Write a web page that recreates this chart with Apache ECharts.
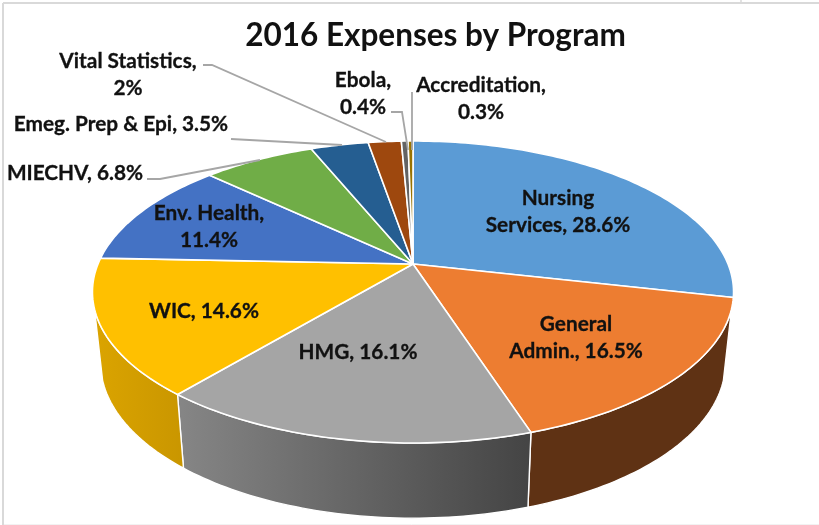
<!DOCTYPE html>
<html>
<head>
<meta charset="utf-8">
<style>html,body{margin:0;padding:0;background:#fff}#chart{width:819px;height:525px}</style>
<script src="https://cdn.jsdelivr.net/npm/echarts@6/dist/echarts.min.js"></script>
</head>
<body>
<div id="chart"></div>
<script>
const titleText = '2016 Expenses by Program';
const categories = ['Nursing Services','General Admin.','HMG','WIC','Env. Health','MIECHV','Emeg. Prep & Epi','Vital Statistics','Ebola','Accreditation'];
const values = [28.6,16.5,16.1,14.6,11.4,6.8,3.5,2,0.4,0.3];
const labelLines = [
  ['Nursing','Services, 28.6%'],
  ['General','Admin., 16.5%'],
  ['HMG, 16.1%'],
  ['WIC, 14.6%'],
  ['Env. Health,','11.4%'],
  ['MIECHV, 6.8%'],
  ['Emeg. Prep & Epi, 3.5%'],
  ['Vital Statistics,','2%'],
  ['Ebola,','0.4%'],
  ['Accreditation,','0.3%']
];
const topColors = ['#5b9bd5','#ed7d31','#a5a5a5','#ffc000','#4472c4','#70ad47','#255e91','#9e480e','#636363','#997300'];
const wallColors = [['#3d6a94','#3d6a94'],['#5f3214','#5f3214'],['#868686','#444444'],['#dba400','#c99600'],
  ['#2f4f88','#2f4f88'],['#4e7a31','#4e7a31'],['#1a4165','#1a4165'],['#6e320a','#6e320a'],['#444444','#444444'],['#6a5000','#6a5000']];

// perspective of the pie disc
const TOP = {x:413, y:264, a:315, b:145.8};
const BOT = {x:413, y:334, a:307, b:150};
const P = 0.1854;
const WALL_FROM = 107*Math.PI/180, WALL_TO = 253*Math.PI/180;
function project(f, ang){
  const u = Math.sin(ang), v = Math.cos(ang), w = 1 + P*v;
  return [f.x + f.a*u/w, f.y - f.b*v/w];
}
const total = values.reduce((s,x)=>s+x,0);
function startOf(i){ let s=0; for(let k=0;k<i;k++) s+=values[k]; return s; }
function arc(f,a0,a1){
  const n = Math.max(2,Math.ceil((a1-a0)/0.02)), pts=[];
  for(let i=0;i<=n;i++) pts.push(project(f,a0+(a1-a0)*i/n));
  return pts;
}
function sliceAngles(params, api){
  const a0 = startOf(params.dataIndex)/total*2*Math.PI;
  return [a0, a0 + api.value(0)/total*2*Math.PI];
}
function renderTop(params, api){
  const [a0,a1] = sliceAngles(params, api);
  return {type:'polygon', shape:{points:[[TOP.x,TOP.y]].concat(arc(TOP,a0,a1))},
    style:{fill:topColors[params.dataIndex], stroke:'#ffffff', lineWidth:1.6, lineJoin:'round'}};
}
function renderWall(params, api){
  let [a0,a1] = sliceAngles(params, api);
  a0 = Math.max(a0, WALL_FROM); a1 = Math.min(a1, WALL_TO);
  if(a1 <= a0) return null;
  const c = wallColors[params.dataIndex];
  const pts = arc(TOP,a0,a1).concat(arc(BOT,a0,a1).reverse());
  return {type:'polygon', shape:{points:pts},
    style:{fill:new echarts.graphic.LinearGradient(0,0,1,0,[{offset:0,color:c[0]},{offset:1,color:c[1]}]),
      stroke:'#ffffff', lineWidth:1.4, lineJoin:'round'}};
}

// label placement: [centre x, first-line centre y]
const labelPlace = [[558,198],[576,324],[358,352],[204,311],[209,213],[75,173],[121,124],[128,61],[363,80],[481,85]];
const LINE_H = 27.5;
// leader line paths of the outside labels
const leaders = [
  [[147,179],[160,179],[260,160]],
  [[231,139],[342,145]],
  [[203,65],[212,65],[386,142]],
  [[391,112],[402,112],[408,150]],
  [[412,92],[412,150]]
];
const graphics = [];
graphics.push({type:'line',shape:{x1:3,y1:3,x2:819,y2:3},style:{stroke:'#d9d9d9',lineWidth:2},z:1});
graphics.push({type:'line',shape:{x1:3,y1:3,x2:3,y2:525},style:{stroke:'#d9d9d9',lineWidth:2},z:1});
graphics.push({type:'line',shape:{x1:741,y1:0,x2:741,y2:3},style:{stroke:'#d9d9d9',lineWidth:1.5},z:1});
graphics.push({type:'line',shape:{x1:4,y1:524.5,x2:819,y2:524.5},style:{stroke:'#f2f2f2',lineWidth:1},z:1});
leaders.forEach(p=>graphics.push({type:'polyline',shape:{points:p},style:{stroke:'#a6a6a6',fill:null,lineWidth:1.8},z:20}));
labelLines.forEach((lines,i)=>{
  lines.forEach((t,j)=>graphics.push({type:'text',x:labelPlace[i][0],y:labelPlace[i][1]+j*LINE_H,z:30,
    style:{text:t,fill:'#111111',stroke:'#111111',lineWidth:0.3,font:'bold 20.8px Lato',align:'center',verticalAlign:'middle'}}));
});

const chart = echarts.init(document.getElementById('chart'));
chart.setOption({
  animation:false,
  backgroundColor:'#ffffff',
  title:{text:titleText,left:430.5,top:15,textAlign:'center',textStyle:{fontFamily:'Lato',fontWeight:'bold',fontSize:31.5,color:'#111111'}},
  graphic:{elements:graphics},
  series:[
    {type:'custom',coordinateSystem:'none',silent:true,z:2,renderItem:renderWall,data:values.map((v,i)=>({name:categories[i],value:[v]}))},
    {type:'custom',coordinateSystem:'none',silent:true,z:3,renderItem:renderTop,data:values.map((v,i)=>({name:categories[i],value:[v]}))}
  ]
});
</script>
</body>
</html>
